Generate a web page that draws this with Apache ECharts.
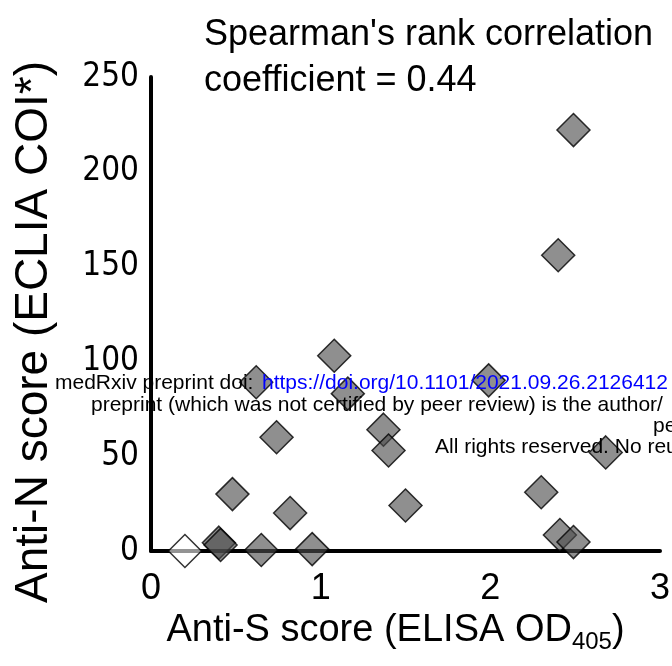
<!DOCTYPE html>
<html>
<head>
<meta charset="utf-8">
<script src="https://cdn.jsdelivr.net/npm/echarts@6/dist/echarts.min.js"></script>
<style>
html,body{margin:0;padding:0;background:#fff;}
#chart{width:672px;height:666px;}
</style>
</head>
<body>
<div id="chart"></div>
<script>
// Anti-S (ELISA OD405) vs Anti-N (ECLIA COI*)
var antiS = [0.40, 0.41, 0.48, 0.62, 0.65, 0.74, 0.82, 0.95, 1.08, 1.16, 1.37, 1.40, 1.50, 1.99, 2.30, 2.40, 2.49, 2.41, 2.49, 2.68];
var antiN = [4.4, 3.2, 30, 89, 0.5, 60, 20, 1, 103, 83, 64, 53, 24, 90, 31, 156, 222, 8.4, 4.7, 52];
// the single open (negative) sample
var openS = [0.20];
var openN = [0];
var xTicks = [0, 1, 2, 3];
var yTicks = [0, 50, 100, 150, 200, 250];

var filled = antiS.map(function (v, i) { return [v, antiN[i]]; });
var open = openS.map(function (v, i) { return [v, openN[i]]; });

var chart = echarts.init(document.getElementById('chart'), null, {renderer: 'canvas'});
var FONT = "'Liberation Sans', Arial, sans-serif";
chart.setOption({
  animation: false,
  backgroundColor: '#fff',
  textStyle: {fontFamily: FONT},
  title: {
    text: "Spearman's rank correlation\ncoefficient = 0.44",
    left: 199, top: 7,
    textStyle: {fontFamily: FONT, fontSize: 36, fontWeight: 'normal', color: '#000', lineHeight: 46}
  },
  grid: {left: 151, top: 77, width: 509, height: 474, containLabel: false, outerBoundsMode: 'none'},
  xAxis: {
    type: 'value', min: xTicks[0], max: xTicks[xTicks.length - 1], interval: 1,
    axisLine: {show: true, lineStyle: {color: '#000', width: 4}},
    axisTick: {show: false}, splitLine: {show: false},
    axisLabel: {color: '#000', fontSize: 36, fontFamily: FONT, margin: 20},
    name: '{a|Anti-S score (ELISA OD}{s|405}{a|)}',
    nameLocation: 'middle', nameGap: 52,
    nameTextStyle: {
      padding: [0, 20, 0, 0],
      rich: {
        a: {fontSize: 38, fontFamily: FONT, color: '#000'},
        s: {fontSize: 24, fontFamily: FONT, color: '#000', verticalAlign: 'bottom', padding: [22, 0, 0, 0]}
      }
    }
  },
  yAxis: {
    type: 'value', min: yTicks[0], max: yTicks[yTicks.length - 1], interval: 50,
    axisLine: {show: true, lineStyle: {color: '#000', width: 4}},
    axisTick: {show: false}, splitLine: {show: false},
    axisLabel: {color: '#000', fontSize: 33, fontFamily: "'Liberation Sans Narrow', 'DejaVu Sans Condensed', " + FONT, margin: 12},
    name: 'Anti-N score (ECLIA COI*)',
    nameLocation: 'middle', nameGap: 94,
    nameTextStyle: {fontSize: 46, fontFamily: FONT, color: '#000', padding: [0, 36, 0, 0]}
  },
  series: [
    {
      type: 'scatter', data: filled, symbol: 'diamond', symbolSize: 33,
      itemStyle: {color: 'rgba(75,75,75,0.78)', borderColor: '#000', borderWidth: 1.5},
      z: 3
    },
    {
      type: 'scatter', data: open, symbol: 'diamond', symbolSize: 33,
      itemStyle: {color: 'rgba(255,255,255,0.72)', borderColor: '#000', borderWidth: 1.5},
      z: 3
    }
  ],
  graphic: [
    {type: 'text', left: 55, top: 373, z: 100, style: {text: 'medRxiv preprint doi: ', font: "21px 'Liberation Sans', Arial, sans-serif", fill: '#000'}},
    {type: 'text', left: 262, top: 373, z: 100, style: {text: 'https://doi.org/10.1101/2021.09.26.2126412', font: "21px 'Liberation Sans', Arial, sans-serif", fill: '#0000ff'}},
    {type: 'text', left: 91, top: 395, z: 100, style: {text: 'preprint (which was not certified by peer review) is the author/', font: "21px 'Liberation Sans', Arial, sans-serif", fill: '#000'}},
    {type: 'text', left: 653, top: 416, z: 100, style: {text: 'pe', font: "21px 'Liberation Sans', Arial, sans-serif", fill: '#000'}},
    {type: 'text', left: 435, top: 437, z: 100, style: {text: 'All rights reserved. No reu', font: "21px 'Liberation Sans', Arial, sans-serif", fill: '#000'}}
  ]
});
</script>
</body>
</html>
